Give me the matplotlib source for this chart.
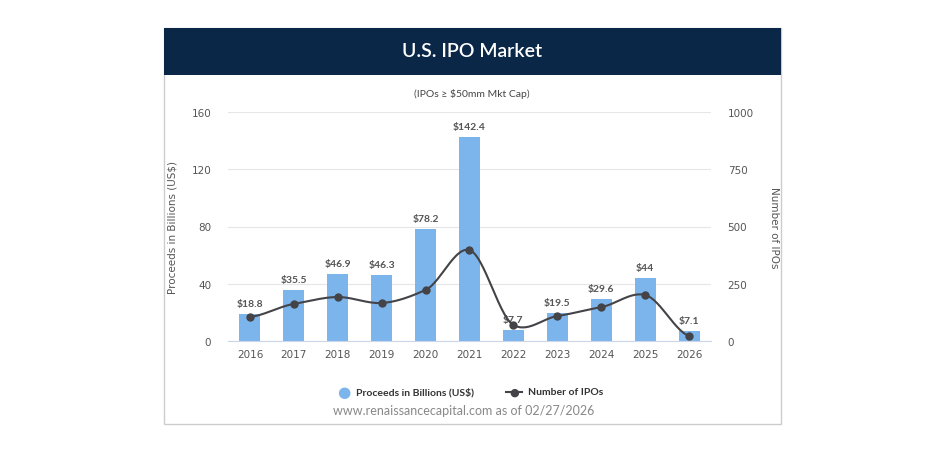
import numpy as np
import matplotlib.pyplot as plt
from matplotlib.patches import Rectangle

years = ["2016", "2017", "2018", "2019", "2020", "2021", "2022", "2023", "2024", "2025", "2026"]
proceeds = [18.8, 35.5, 46.9, 46.3, 78.2, 142.4, 7.7, 19.5, 29.6, 44, 7.1]
proceed_labels = ["$18.8", "$35.5", "$46.9", "$46.3", "$78.2", "$142.4", "$7.7", "$19.5", "$29.6", "$44", "$7.1"]
num_ipos = [105, 162, 192, 166, 223, 397, 70, 109, 148, 201, 22]

W, H = 948, 464
fig = plt.figure(figsize=(W / 100, H / 100), dpi=100)
fig.patch.set_facecolor("white")

# outer box and title bar
fig.patches.append(Rectangle((164 / W, 1 - 425 / H), (781 - 164) / W, (425 - 29) / H,
                             transform=fig.transFigure, fill=False, ec="#cccccc", lw=1))
fig.patches.append(Rectangle((164 / W, 1 - 76 / H), (781 - 164) / W, (76 - 29) / H,
                             transform=fig.transFigure, fc="#0b2748", ec="none"))
fig.text(472 / W, 1 - 52 / H, "U.S. IPO Market", color="white", fontsize=14,
         ha="center", va="center", family="Lato", fontweight="semibold")
fig.text(472 / W, 1 - 94 / H, "(IPOs \u2265 $50mm Mkt Cap)", color="#444444", fontsize=7.5,
         ha="center", va="center", family="Lato")

ax = fig.add_axes([228 / W, 1 - 342 / H, (711 - 228) / W, (342 - 113) / H])
x = np.arange(len(years))
ax.bar(x, proceeds, width=0.48, color="#7cb5ec", zorder=2)
for xi, v, lab in zip(x, proceeds, proceed_labels):
    ax.text(xi, v + 4, lab, ha="center", va="bottom", fontsize=7.5, color="#555555",
            fontweight="bold", family="Lato", zorder=5)
ax.set_ylim(0, 160)
ax.set_xlim(-0.5, len(years) - 0.5)
ax.set_yticks([0, 40, 80, 120, 160])
ax.set_xticks(x, years)
ax.grid(axis="y", color="#e6e6e6", lw=0.8, zorder=0)
for s in ax.spines.values():
    s.set_visible(False)
ax.spines["bottom"].set_visible(True)
ax.spines["bottom"].set_color("#ccd6eb")
ax.tick_params(length=0, labelsize=7.5, colors="#555555", pad=6)
ax.tick_params(axis="y", pad=12)
ax.set_ylabel("Proceeds in Billions (US$)", fontsize=7.5, color="#555555", labelpad=10)

ax2 = ax.twinx()
ax2.set_ylim(0, 1000)
ax2.set_yticks([0, 250, 500, 750, 1000])
for s in ax2.spines.values():
    s.set_visible(False)
ax2.tick_params(length=0, labelsize=7.5, colors="#555555", pad=12)
ax2.set_ylabel("Number of IPOs", fontsize=7.5, color="#555555", rotation=270, labelpad=18)

# smooth curve through the points (Catmull-Rom style, as the original chart)
xs, ys = [], []
pts = np.array(num_ipos, dtype=float)
for i in range(len(pts) - 1):
    p0 = pts[max(i - 1, 0)]
    p1, p2 = pts[i], pts[i + 1]
    p3 = pts[min(i + 2, len(pts) - 1)]
    t = np.linspace(0, 1, 30)
    m1 = (p2 - p0) / 2 * 0.75
    m2 = (p3 - p1) / 2 * 0.75
    h = (2 * t**3 - 3 * t**2 + 1) * p1 + (t**3 - 2 * t**2 + t) * m1 \
        + (-2 * t**3 + 3 * t**2) * p2 + (t**3 - t**2) * m2
    xs.extend(i + t)
    ys.extend(h)
ax2.plot(xs, ys, color="#434348", lw=1.5, zorder=4)
ax2.plot(x, num_ipos, "o", color="#434348", ms=5, zorder=4)

# legend
fig.text(344 / W, 1 - 393 / H, "\u25cf", color="#7cb5ec", fontsize=11, ha="center", va="center")
fig.text(356 / W, 1 - 393 / H, "Proceeds in Billions (US$)", color="#333333", fontsize=7.5,
         fontweight="bold", ha="left", va="center", family="Lato")
fig.lines.append(plt.Line2D([506 / W, 522 / W], [1 - 393 / H] * 2, transform=fig.transFigure,
                            color="#434348", lw=1.5))
fig.text(514 / W, 1 - 393 / H, "\u25cf", color="#434348", fontsize=8, ha="center", va="center")
fig.text(528 / W, 1 - 393 / H, "Number of IPOs", color="#333333", fontsize=7.5,
         fontweight="bold", ha="left", va="center", family="Lato")
fig.text(464 / W, 1 - 411 / H, "www.renaissancecapital.com as of 02/27/2026", color="#888888",
         fontsize=9, ha="center", va="center", family="Lato")

fig.savefig("out.png", dpi=100)
